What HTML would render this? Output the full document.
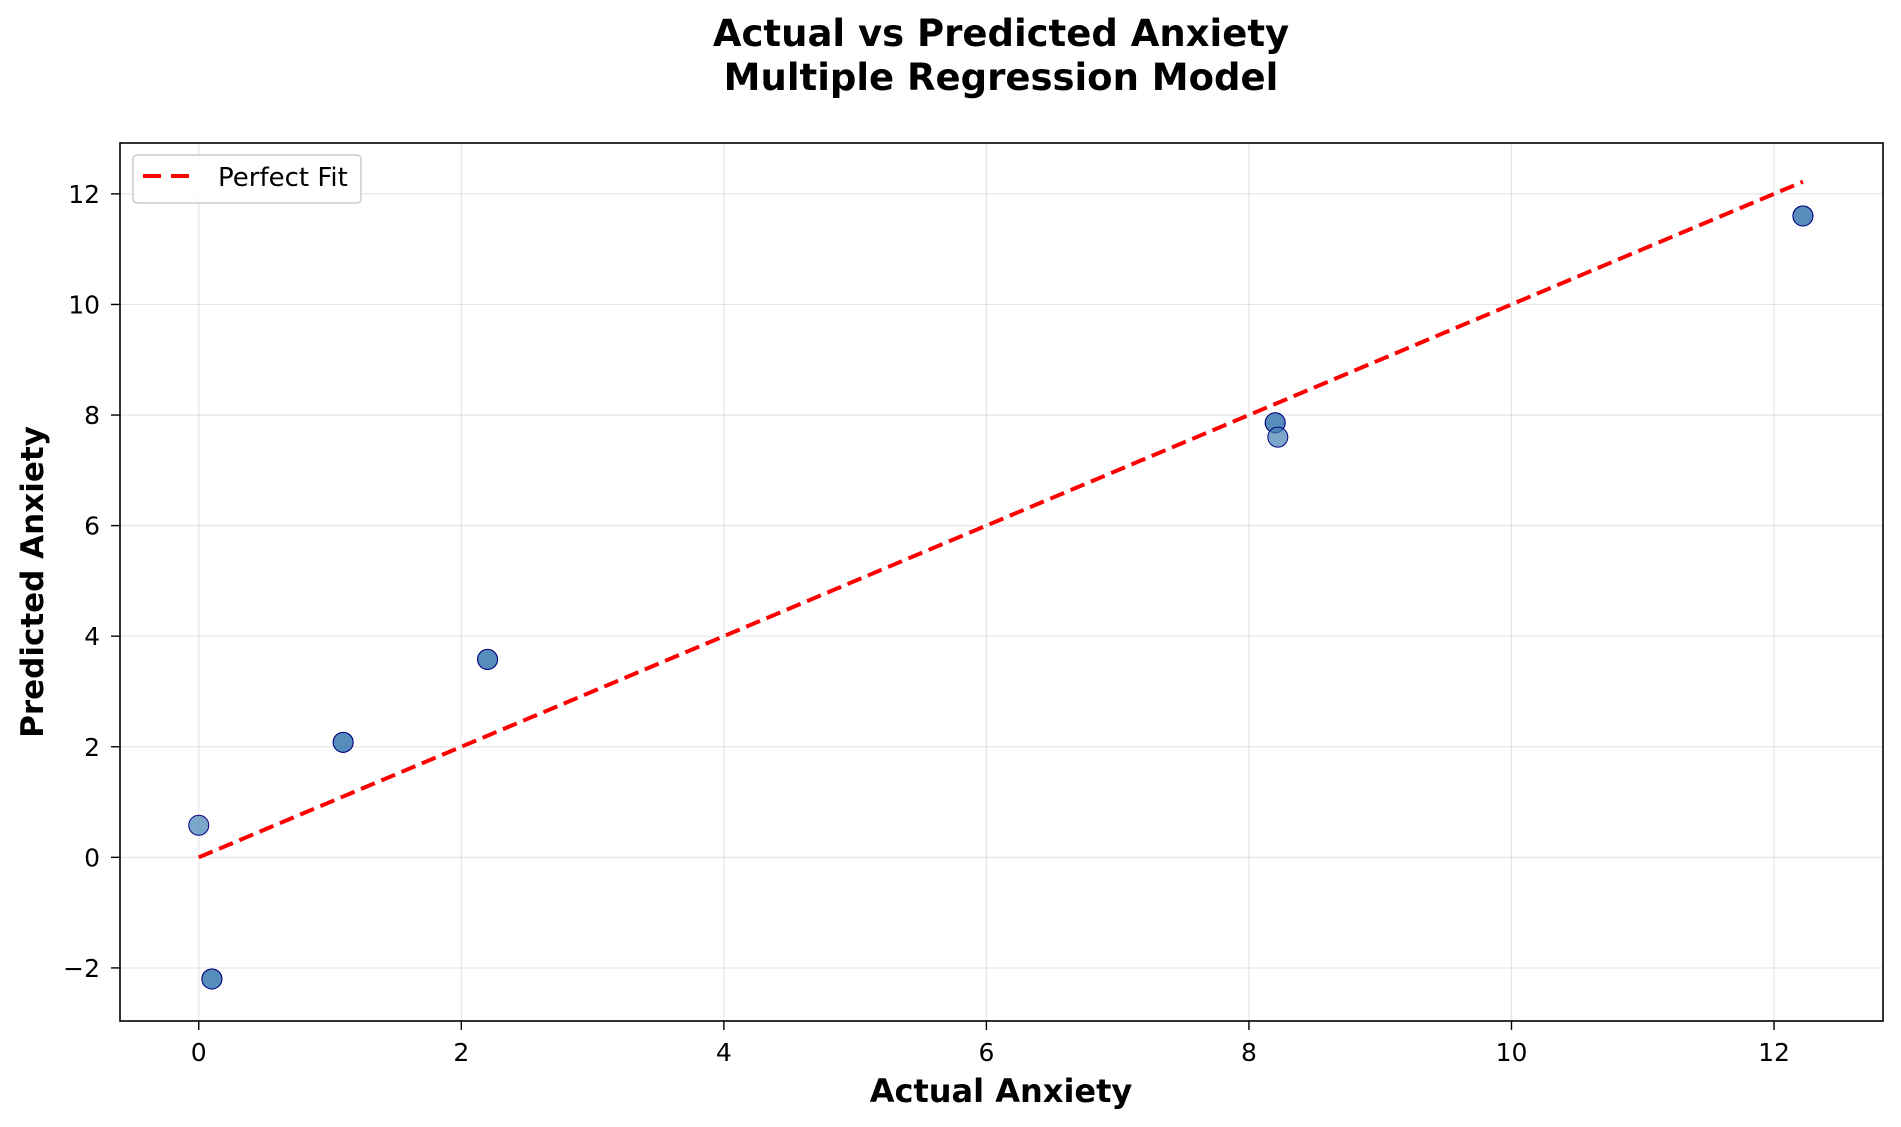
<!DOCTYPE html>
<html><head><meta charset="utf-8"><style>body{margin:0;background:#fff}svg{display:block;font-family:"DejaVu Sans","Liberation Sans",sans-serif}</style></head>
<body>
<svg id="chart" width="1901" height="1127" viewBox="0 0 1901 1127">
<text x="1001" y="46" text-anchor="middle" font-size="37" font-weight="bold">Actual vs Predicted Anxiety</text>
<text x="1001" y="90" text-anchor="middle" font-size="37" font-weight="bold">Multiple Regression Model</text>
<g id="grid"></g><g id="marks"></g>
<rect x="120" y="143" width="1763" height="878" fill="none" stroke="#000" stroke-width="1.6"/>
<g id="ticks"></g>
<text x="1001" y="1102" text-anchor="middle" font-size="32" font-weight="bold">Actual Anxiety</text>
<text transform="translate(43,582) rotate(-90)" text-anchor="middle" font-size="31" font-weight="bold">Predicted Anxiety</text>
<g>
<rect x="133" y="155" width="228" height="48" rx="4" fill="#fff" fill-opacity="0.8" stroke="#ccc" stroke-width="1.5"/>
<line x1="143" y1="176" x2="192" y2="176" stroke="red" stroke-width="4" stroke-dasharray="18,10"/>
<text x="218" y="186" font-size="26">Perfect Fit</text>
</g>
</svg>
<script>
const actualValues=[0,0.1,0.1,1.1,1.1,2.2,2.2,8.2,8.2,8.22,12.22,12.22];
const predictedValues=[0.58,-2.2,-2.2,2.08,2.08,3.58,3.58,7.86,7.86,7.6,11.6,11.6];
const xTicks=[0,2,4,6,8,10,12];
const yTicks=[-2,0,2,4,6,8,10,12];
const fitRange=[0,12.22];
const NS='http://www.w3.org/2000/svg';
const X0=-0.6,X1=12.83,Y0=-2.96,Y1=12.92,L=120,R=1883,T=143,B=1021;
const sx=v=>L+(v-X0)/(X1-X0)*(R-L);
const sy=v=>B-(v-Y0)/(Y1-Y0)*(B-T);
function mk(t,a,p){const e=document.createElementNS(NS,t);for(const k in a)e.setAttribute(k,a[k]);p.appendChild(e);return e;}
const grid=document.getElementById('grid'),ticks=document.getElementById('ticks'),marks=document.getElementById('marks');
xTicks.forEach(v=>{const x=sx(v);
const g=mk('line',{x1:x,x2:x,y1:T,y2:B,stroke:'#000','stroke-opacity':0.1,'stroke-width':1.2},grid);

mk('line',{x1:x,x2:x,y1:B,y2:B+9,stroke:'#000','stroke-width':1.4},ticks);
const t=mk('text',{x:x,y:B+40,'text-anchor':'middle','font-size':25},ticks);t.textContent=v<0?'\u2212'+(-v):v;
});
yTicks.forEach(v=>{const y=sy(v);
const g=mk('line',{x1:L,x2:R,y1:y,y2:y,stroke:'#000','stroke-opacity':0.1,'stroke-width':1.2},grid);

mk('line',{x1:L-9,x2:L,y1:y,y2:y,stroke:'#000','stroke-width':1.4},ticks);
const t=mk('text',{x:L-20,y:y+9,'text-anchor':'end','font-size':25},ticks);t.textContent=v<0?'\u2212'+(-v):v;
});
actualValues.forEach((a,i)=>{const c=mk('circle',{cx:sx(a),cy:sy(predictedValues[i]),r:10,fill:'steelblue','fill-opacity':0.7,stroke:'navy','stroke-width':1},marks);
});
const fl=mk('line',{x1:sx(fitRange[0]),y1:sy(fitRange[0]),x2:sx(fitRange[1]),y2:sy(fitRange[1]),stroke:'red','stroke-width':4,'stroke-dasharray':'15,7'},marks);

</script>
</body></html>
